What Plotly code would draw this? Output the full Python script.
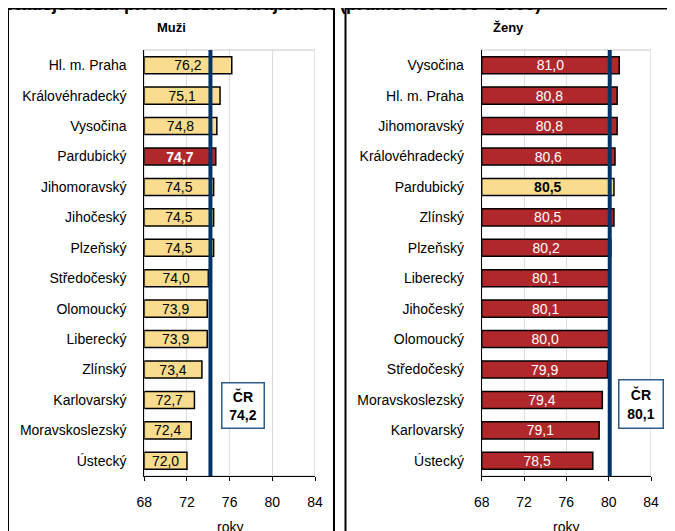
import plotly.graph_objects as go

# ---- data ----
men_regions = ["Hl. m. Praha", "Královéhradecký", "Vysočina", "Pardubický", "Jihomoravský",
               "Jihočeský", "Plzeňský", "Středočeský", "Olomoucký", "Liberecký", "Zlínský",
               "Karlovarský", "Moravskoslezský", "Ústecký"]
men_values = [76.2, 75.1, 74.8, 74.7, 74.5, 74.5, 74.5, 74.0, 73.9, 73.9, 73.4, 72.7, 72.4, 72.0]
men_cr = 74.2

women_regions = ["Vysočina", "Hl. m. Praha", "Jihomoravský", "Královéhradecký", "Pardubický",
                 "Zlínský", "Plzeňský", "Liberecký", "Jihočeský", "Olomoucký", "Středočeský",
                 "Moravskoslezský", "Karlovarský", "Ústecký"]
women_values = [81.0, 80.8, 80.8, 80.6, 80.5, 80.5, 80.2, 80.1, 80.1, 80.0, 79.9, 79.4, 79.1, 78.5]
women_cr = 80.1

highlight = "Pardubický"
x_ticks = [68, 72, 76, 80, 84]
x_min, x_max = 68, 84

title = "Naděje dožití při narození v krajích ČR (průměr let 2005 - 2009)"
panel_titles = ["Muži", "Ženy"]
axis_title = "roky"

# ---- style ----
W, H = 675, 531
OFF = 8  # page body margin offset
FONT = "Liberation Sans, Arial, sans-serif"
YELLOW = "#F9DC8D"
RED = "#B0282B"
NAVY = "#003366"
BOXBLUE = "#2E5B8A"
GRID = "#DCDCDC"


def fmt(v):
    return f"{v:.1f}".replace(".", ",")


def px_x(p):
    return (p - OFF) / W


def px_y(p):
    return 1 - (p - OFF) / H


fig = go.Figure()

panels = [
    dict(regions=men_regions, values=men_values, cr=men_cr, base_col=YELLOW, base_txt="black",
         hi_col=RED, hi_txt="white", xa="x", ya="y", dom=(144.3, 315.0), box=(221, 265, 382, 429),
         frame=(8, 334), ttl_x=171),
    dict(regions=women_regions, values=women_values, cr=women_cr, base_col=RED, base_txt="white",
         hi_col=YELLOW, hi_txt="black", xa="x2", ya="y2", dom=(481.7, 651.0), box=(618, 664, 379, 429),
         frame=(345.5, 671), ttl_x=508),
]

plot_top, plot_bot = 50, 476

for i, p in enumerate(panels):
    cols, tcols, texts = [], [], []
    for r, v in zip(p["regions"], p["values"]):
        if r == highlight:
            cols.append(p["hi_col"]); tcols.append(p["hi_txt"]); texts.append(f"<b>{fmt(v)}</b>")
        else:
            cols.append(p["base_col"]); tcols.append(p["base_txt"]); texts.append(fmt(v))
    fig.add_trace(go.Bar(
        y=p["regions"], x=[v - x_min for v in p["values"]], base=x_min, orientation="h",
        marker=dict(color=cols, line=dict(color="black", width=1.5)),
        text=texts, textposition="inside", insidetextanchor="middle",
        textfont=dict(family=FONT, size=14, color=tcols), constraintext="none",
        xaxis=p["xa"], yaxis=p["ya"], showlegend=False, hoverinfo="skip",
    ))

    sfx = "" if i == 0 else "2"
    fig.update_layout({
        f"xaxis{sfx}": dict(
            domain=[px_x(p["dom"][0]), px_x(p["dom"][1])], range=[x_min, x_max],
            tickvals=x_ticks, ticktext=[str(t) for t in x_ticks],
            showgrid=True, gridcolor=GRID, gridwidth=1, zeroline=False,
            showline=True, linecolor="black", linewidth=1,
            ticks="outside", ticklen=4, tickcolor="black", tickwidth=1,
            ticklabelstandoff=9,
            tickfont=dict(family=FONT, size=14, color="black"),
            anchor="y" + sfx, automargin=False, fixedrange=True,
        ),
        f"yaxis{sfx}": dict(
            domain=[px_y(plot_bot), px_y(plot_top)], type="category",
            categoryorder="array", categoryarray=p["regions"],
            range=[len(p["regions"]) - 0.5, -0.5],
            showgrid=False, zeroline=False, showline=True, linecolor="black", linewidth=1,
            ticks="", ticklabelstandoff=14,
            tickfont=dict(family=FONT, size=14, color="black"),
            anchor="x" + sfx, automargin=False, fixedrange=True,
        ),
    })

    xref = p["xa"]
    yref = p["ya"] + " domain"
    # plot-area gray border (top / right)
    fig.add_shape(type="rect", xref=xref, yref=yref, x0=x_min, x1=x_max, y0=0, y1=1,
                  line=dict(color="#C8C8C8", width=1), layer="below")
    # national average line
    fig.add_shape(type="line", xref=xref, yref=yref, x0=p["cr"], x1=p["cr"], y0=0, y1=1,
                  line=dict(color=NAVY, width=4), layer="above")
    # CR box
    bx0, bx1, by0, by1 = p["box"]
    fig.add_annotation(xref="paper", yref="paper", x=px_x((bx0 + bx1) / 2), y=px_y((by0 + by1) / 2),
                       xanchor="center", yanchor="middle", showarrow=False,
                       text=f"<b>ČR<br>{fmt(p['cr'])}</b>", align="center",
                       font=dict(family=FONT, size=14, color="black"),
                       width=bx1 - bx0 - 6, height=by1 - by0 - 6, borderpad=1.5,
                       bordercolor=BOXBLUE, borderwidth=1.5, bgcolor="white")
    # panel frame
    fx0, fx1 = p["frame"]
    fig.add_shape(type="rect", xref="paper", yref="paper", x0=px_x(fx0), x1=px_x(fx1),
                  y0=px_y(560), y1=px_y(8.5), line=dict(color="black", width=2))
    # panel title
    fig.add_annotation(xref="paper", yref="paper", x=px_x(p["ttl_x"]), y=px_y(27),
                       xanchor="center", yanchor="middle", showarrow=False,
                       text=f"<b>{panel_titles[i]}</b>",
                       font=dict(family=FONT, size=13, color="black"))
    # axis title
    fig.add_annotation(xref="paper", yref="paper", x=px_x((p["dom"][0] + p["dom"][1]) / 2),
                       y=px_y(527), xanchor="center", yanchor="middle", showarrow=False,
                       text=axis_title, font=dict(family=FONT, size=14, color="black"))

# main title (cut at the top edge, as in the reference)
fig.add_annotation(xref="paper", yref="paper", x=px_x(6), y=px_y(3.5), xanchor="left",
                   yanchor="middle", showarrow=False, text=f"<b>{title}</b>",
                   font=dict(family=FONT, size=18, color="black"))

fig.update_layout(
    width=W, height=H, template="none",
    margin=dict(l=0, r=0, t=0, b=0, pad=0),
    paper_bgcolor="white", plot_bgcolor="white",
    bargap=0.44, showlegend=False,
    font=dict(family=FONT, size=14, color="black"),
)

fig.write_html("out.html")
